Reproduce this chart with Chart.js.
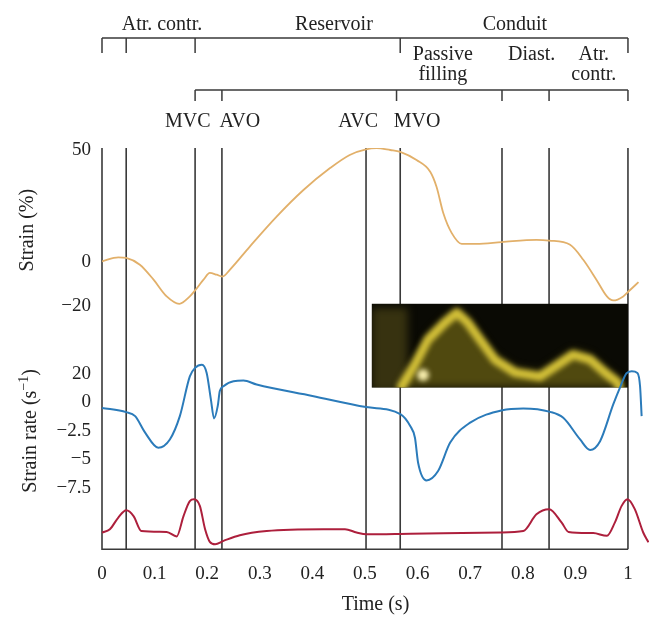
<!DOCTYPE html>
<html>
<head>
<meta charset="utf-8">
<script src="https://cdn.jsdelivr.net/npm/chart.js@4.4.1/dist/chart.umd.min.js"></script>
<style>
  html, body { margin: 0; padding: 0; background: #fff; }
  #wrap { width: 663px; height: 628px; }
</style>
</head>
<body>
<div id="wrap"><canvas id="chart" width="663" height="628"></canvas></div>
<script>
// ---- data ----
const timeTicks = [0, 0.1, 0.2, 0.3, 0.4, 0.5, 0.6, 0.7, 0.8, 0.9, 1];
const timeTickLabels = ['0', '0.1', '0.2', '0.3', '0.4', '0.5', '0.6', '0.7', '0.8', '0.9', '1'];

// cardiac events (s): MVC, AVO, AVC, MVO etc.
const eventTimes = [0.046, 0.177, 0.228, 0.502, 0.567, 0.7605, 0.85, 1.0];

// strain (%)
const strainTicks = [50, 0, -20];
const strainTickLabels = ['50', '0', '\u221220'];
const strainT = [0, 0.031, 0.046, 0.072, 0.098, 0.123, 0.147, 0.167, 0.177, 0.193, 0.205, 0.218, 0.229, 0.243, 0.281, 0.332, 0.383, 0.433, 0.471, 0.502, 0.522, 0.548, 0.567, 0.598, 0.624, 0.636, 0.649, 0.665, 0.684, 0.712, 0.760, 0.826, 0.850, 0.890, 0.915, 0.940, 0.960, 0.972, 0.991, 1.001, 1.020];
const strainV = [0.2, 2.0, 1.7, -1.3, -8.0, -15.5, -18.8, -15.5, -12.8, -8.0, -5.0, -5.8, -6.6, -3.6, 6.8, 20.2, 32.1, 41.8, 47.8, 50.3, 50.8, 50.0, 49.2, 45.5, 40.3, 33.6, 21.7, 12.8, 8.0, 8.0, 8.8, 9.8, 9.5, 7.6, 0.9, -8.0, -15.5, -17.3, -15.5, -13.3, -9.1];

// strain rate (axis steps, labelled 20, 0, -2.5, -5, -7.5 as in the figure)
const rateTicks = [1, 0, -1, -2, -3];
const rateTickLabels = ['20', '0', '\u22122.5', '\u22125', '\u22127.5'];
const rateT = [0, 0.046, 0.063, 0.082, 0.107, 0.129, 0.148, 0.167, 0.177, 0.190, 0.199, 0.207, 0.213, 0.220, 0.224, 0.231, 0.250, 0.269, 0.294, 0.400, 0.502, 0.568, 0.586, 0.595, 0.601, 0.617, 0.639, 0.662, 0.700, 0.761, 0.801, 0.852, 0.877, 0.909, 0.928, 0.947, 0.972, 0.985, 0.997, 1.007, 1.018, 1.023, 1.026];
const rateV = [-0.19, -0.34, -0.48, -1.06, -1.59, -1.30, -0.48, 0.92, 1.22, 1.33, 1.04, 0.11, -0.56, -0.13, 0.40, 0.57, 0.75, 0.77, 0.63, 0.23, -0.16, -0.42, -0.83, -1.24, -2.12, -2.74, -2.41, -1.41, -0.71, -0.27, -0.21, -0.33, -0.54, -1.30, -1.67, -1.36, -0.07, 0.53, 1.02, 1.10, 1.04, 0.57, -0.48];

// ECG trace (arbitrary units)
const ecgT = [0, 0.015, 0.031, 0.046, 0.060, 0.075, 0.123, 0.142, 0.155, 0.167, 0.175, 0.186, 0.196, 0.205, 0.215, 0.231, 0.262, 0.313, 0.421, 0.462, 0.484, 0.503, 0.586, 0.757, 0.801, 0.826, 0.850, 0.874, 0.887, 0.934, 0.960, 0.975, 0.988, 0.999, 1.013, 1.029, 1.039];
const ecgV = [-0.01, 0.10, 0.49, 0.73, 0.54, 0.04, 0.01, -0.14, 0.54, 1.04, 1.10, 0.88, 0.10, -0.32, -0.40, -0.29, -0.10, 0.04, 0.10, 0.10, -0.01, -0.07, -0.05, -0.01, 0.04, 0.60, 0.77, 0.32, 0.01, -0.03, -0.12, 0.32, 0.88, 1.10, 0.77, -0.01, -0.34];

// phase annotations above the plot
const phaseRow1 = [['Atr. contr.', 0.114], ['Reservoir', 0.441], ['Conduit', 0.785]];
const phaseRow2 = [[['Passive', 'filling'], 0.648], [['Diast.'], 0.817], [['Atr.', 'contr.'], 0.935]];
const bracket1Ticks = [0, 0.046, 0.177, 0.567, 1.0];
const bracket2Ticks = [0.177, 0.228, 0.56, 0.7605, 0.85, 1.0];
const valveLabels = [['MVC', 0.163], ['AVO', 0.262], ['AVC', 0.487], ['MVO', 0.599]];

// speckle image inset envelope (fractions of the inset box)
const insetEnvX = [0.109, 0.168, 0.219, 0.285, 0.332, 0.375, 0.422, 0.480, 0.559, 0.656, 0.727, 0.785, 0.852, 0.910, 0.961, 0.969];
const insetEnvY = [0.964, 0.667, 0.369, 0.167, 0.048, 0.167, 0.369, 0.607, 0.762, 0.810, 0.667, 0.548, 0.607, 0.762, 0.881, 0.976];

const SERIF = '"Liberation Serif", "Times New Roman", serif';
const INK = '#222';
const LINE = '#3a3a3a';

function pts(xs, ys) {
    return xs.map((x, i) => ({ x: x, y: ys[i] }));
}

const decor = {
    id: 'decor',
    beforeDatasetsDraw(chart) {
        const ctx = chart.ctx;
        const xs = chart.scales.x;
        const ys = chart.scales.yStrain;
        const area = chart.chartArea;

        // event lines and frame
        ctx.save();
        ctx.strokeStyle = LINE;
        ctx.lineWidth = 1.6;
        ctx.beginPath();
        const x0 = xs.getPixelForValue(0);
        const x1 = xs.getPixelForValue(1);
        ctx.moveTo(x0, area.top);
        ctx.lineTo(x0, area.bottom);
        ctx.lineTo(x1, area.bottom);
        eventTimes.forEach(t => {
            const px = xs.getPixelForValue(t);
            ctx.moveTo(px, area.top);
            ctx.lineTo(px, area.bottom);
        });
        ctx.stroke();
        ctx.restore();

        // speckle-tracking image inset
        const left = xs.getPixelForValue(0.513);
        const right = xs.getPixelForValue(1.0);
        const top = ys.getPixelForValue(-18.8);
        const bottom = ys.getPixelForValue(-56.3);
        const w = right - left, h = bottom - top;
        ctx.save();
        ctx.fillStyle = '#0a0a04';
        ctx.fillRect(left, top, w, h);
        ctx.beginPath();
        ctx.rect(left, top, w, h);
        ctx.clip();
        ctx.filter = 'blur(4px)';
        ctx.fillStyle = 'rgba(110, 100, 30, 0.45)';
        ctx.fillRect(left, top + 4, w * 0.14, h);
        ctx.beginPath();
        ctx.moveTo(left + insetEnvX[0] * w, bottom);
        insetEnvX.forEach((fx, i) => ctx.lineTo(left + fx * w, top + insetEnvY[i] * h));
        ctx.lineTo(left + insetEnvX[insetEnvX.length - 1] * w, bottom);
        ctx.closePath();
        ctx.fillStyle = 'rgba(150, 135, 25, 0.5)';
        ctx.fill();
        ctx.filter = 'blur(2.5px)';
        ctx.beginPath();
        insetEnvX.forEach((fx, i) => {
            const px = left + fx * w, py = top + insetEnvY[i] * h + 5;
            if (i === 0) ctx.moveTo(px, py); else ctx.lineTo(px, py);
        });
        ctx.strokeStyle = 'rgba(225, 205, 60, 0.9)';
        ctx.lineWidth = 9;
        ctx.lineJoin = 'round';
        ctx.stroke();
        ctx.beginPath();
        ctx.arc(left + 0.2 * w, top + 0.85 * h, 6, 0, Math.PI * 2);
        ctx.fillStyle = 'rgba(255, 246, 180, 0.95)';
        ctx.fill();
        ctx.restore();
    },
    afterDraw(chart) {
        const ctx = chart.ctx;
        const xs = chart.scales.x;
        ctx.save();
        ctx.strokeStyle = LINE;
        ctx.lineWidth = 1.5;
        ctx.fillStyle = INK;
        ctx.font = '20px ' + SERIF;
        ctx.textAlign = 'center';
        ctx.textBaseline = 'alphabetic';

        // bracket 1
        ctx.beginPath();
        ctx.moveTo(xs.getPixelForValue(0), 38);
        ctx.lineTo(xs.getPixelForValue(1), 38);
        bracket1Ticks.forEach(t => {
            const px = xs.getPixelForValue(t);
            ctx.moveTo(px, 38);
            ctx.lineTo(px, 53);
        });
        // bracket 2
        ctx.moveTo(xs.getPixelForValue(bracket2Ticks[0]), 90);
        ctx.lineTo(xs.getPixelForValue(1), 90);
        bracket2Ticks.forEach(t => {
            const px = xs.getPixelForValue(t);
            ctx.moveTo(px, 90);
            ctx.lineTo(px, 101);
        });
        ctx.stroke();

        phaseRow1.forEach(([txt, t]) => ctx.fillText(txt, xs.getPixelForValue(t), 30));
        phaseRow2.forEach(([lines, t]) => {
            lines.forEach((txt, i) => ctx.fillText(txt, xs.getPixelForValue(t), 60 + i * 20));
        });
        valveLabels.forEach(([txt, t]) => ctx.fillText(txt, xs.getPixelForValue(t), 127));

        // left tick labels
        ctx.font = '19px ' + SERIF;
        ctx.textAlign = 'right';
        ctx.textBaseline = 'middle';
        const yS = chart.scales.yStrain, yR = chart.scales.yRate;
        strainTicks.forEach((v, i) => ctx.fillText(strainTickLabels[i], 91, yS.getPixelForValue(v)));
        rateTicks.forEach((v, i) => ctx.fillText(rateTickLabels[i], 91, yR.getPixelForValue(v)));

        // rotated axis titles
        ctx.font = '20px ' + SERIF;
        ctx.save();
        ctx.translate(28, (yS.getPixelForValue(50) + yS.getPixelForValue(-20)) / 2 + 2);
        ctx.rotate(-Math.PI / 2);
        ctx.textAlign = 'center';
        ctx.fillText('Strain (%)', 0, 0);
        ctx.restore();

        ctx.save();
        const main = 'Strain rate (s';
        ctx.font = '20px ' + SERIF;
        const wMain = ctx.measureText(main).width;
        const wClose = ctx.measureText(')').width;
        ctx.font = '14px ' + SERIF;
        const wSup = ctx.measureText('\u22121').width;
        const total = wMain + wSup + wClose;
        ctx.translate(31, (yR.getPixelForValue(1) + yR.getPixelForValue(-3)) / 2);
        ctx.rotate(-Math.PI / 2);
        ctx.textAlign = 'left';
        let cx = -total / 2;
        ctx.font = '20px ' + SERIF;
        ctx.fillText(main, cx, 0);
        cx += wMain;
        ctx.font = '14px ' + SERIF;
        ctx.fillText('\u22121', cx, -7);
        cx += wSup;
        ctx.font = '20px ' + SERIF;
        ctx.fillText(')', cx, 0);
        ctx.restore();

        ctx.restore();
    }
};

Chart.defaults.font.family = SERIF;
Chart.defaults.font.size = 19;
Chart.defaults.color = INK;

new Chart(document.getElementById('chart').getContext('2d'), {
    type: 'line',
    data: {
        datasets: [
            {
                label: 'Strain',
                data: pts(strainT, strainV),
                yAxisID: 'yStrain',
                borderColor: '#e2b06a',
                borderWidth: 1.8
            },
            {
                label: 'Strain rate',
                data: pts(rateT, rateV),
                yAxisID: 'yRate',
                borderColor: '#2b7bba',
                borderWidth: 2
            },
            {
                label: 'ECG',
                data: pts(ecgT, ecgV),
                yAxisID: 'yEcg',
                borderColor: '#ad1f3c',
                borderWidth: 2
            }
        ]
    },
    options: {
        responsive: false,
        animation: false,
        devicePixelRatio: 1,
        layout: { padding: { top: 148, left: 102, right: 14, bottom: 7 } },
        elements: {
            point: { radius: 0 },
            line: { cubicInterpolationMode: 'monotone', fill: false }
        },
        plugins: {
            legend: { display: false },
            tooltip: { enabled: false }
        },
        scales: {
            x: {
                type: 'linear',
                min: 0,
                max: 1.04,
                afterBuildTicks: s => { s.ticks = timeTicks.map(v => ({ value: v })); },
                ticks: {
                    padding: 13,
                    maxRotation: 0,
                    autoSkip: false,
                    callback: (v, i) => timeTickLabels[i]
                },
                grid: { display: false, drawTicks: false },
                border: { display: false },
                title: { display: true, text: 'Time (s)', font: { size: 20 }, padding: { top: -5, bottom: 4 } }
            },
            yStrain: { display: false, min: -128.6, max: 50.9 },
            yRate: { display: false, min: -5.16, max: 8.95 },
            yEcg: { display: false, min: -0.567, max: 12.83 }
        }
    },
    plugins: [decor]
});
</script>
</body>
</html>
